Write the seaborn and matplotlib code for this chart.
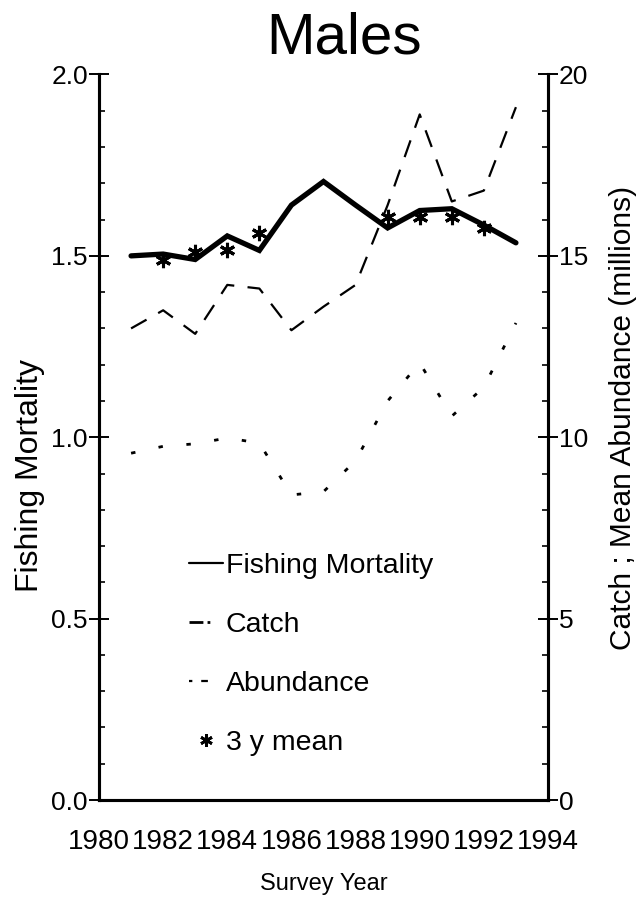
import matplotlib
matplotlib.use("Agg")
import matplotlib.pyplot as plt
from matplotlib.lines import Line2D
import seaborn as sns
import pandas as pd

# ---- data ----
years = [1981, 1982, 1983, 1984, 1985, 1986, 1987, 1988, 1989, 1990, 1991, 1992, 1993]
fishing_mortality = [1.50, 1.505, 1.49, 1.555, 1.515, 1.64, 1.705, 1.64, 1.577, 1.625, 1.63, 1.585, 1.536]
catch = [13.0, 13.5, 12.85, 14.2, 14.1, 12.95, 13.6, 14.2, 16.4, 18.9, 16.5, 16.8, 19.1]
abundance = [9.56, 9.75, 9.82, 9.98, 9.84, 8.41, 8.5, 9.35, 11.0, 12.05, 10.58, 11.38, 13.15]
mean_years = [1982, 1983, 1984, 1985, 1989, 1990, 1991, 1992]
mean_3y = [1.49, 1.512, 1.517, 1.563, 1.607, 1.607, 1.607, 1.577]

x_ticks = [1980, 1982, 1984, 1986, 1988, 1990, 1992, 1994]
left_ticks = [0.0, 0.5, 1.0, 1.5, 2.0]
right_ticks = [0, 5, 10, 15, 20]

sns.set_style("white")
plt.rcParams['font.family'] = ['Liberation Sans', 'DejaVu Sans']
plt.rcParams['text.color'] = 'black'
plt.rcParams['axes.labelcolor'] = 'black'
plt.rcParams['xtick.color'] = 'black'
plt.rcParams['ytick.color'] = 'black'

df = pd.DataFrame({"year": years, "fm": fishing_mortality, "catch": catch, "abund": abundance})
dm = pd.DataFrame({"year": mean_years, "m": mean_3y})

fig = plt.figure(figsize=(6.4, 9.05), dpi=100)
ax = fig.add_axes([99/640, 1-800/905, 449/640, 725.5/905])
ax2 = ax.twinx()

sns.lineplot(data=df, x="year", y="fm", ax=ax, color="black", lw=3.8,
             solid_joinstyle="miter", zorder=5)
sns.lineplot(data=dm, x="year", y="m", ax=ax, color="black", marker=(6, 2, 0),
             linestyle="none", markersize=11, markeredgewidth=2.2,
             markeredgecolor="black", zorder=6)
sns.lineplot(data=df, x="year", y="catch", ax=ax2, color="black", lw=1.6,
             linestyle=(0, (8, 6)))
sns.lineplot(data=df, x="year", y="abund", ax=ax2, color="black", lw=2.0,
             linestyle=(0, (1.6, 8.5)))

ax.set_xlim(1980, 1994)
ax.set_ylim(0, 2.0)
ax2.set_ylim(0, 20)
ax.set_xticks(x_ticks)
ax.set_xticks([1981, 1983, 1985, 1987, 1989, 1991, 1993], minor=True)
ax.set_yticks(left_ticks)
ax.set_yticklabels([f"{v:.1f}" for v in left_ticks])
ax.set_yticks([v/10 for v in range(21)], minor=True)
ax2.set_yticks(right_ticks)
ax2.set_yticks(list(range(21)), minor=True)

for a in (ax, ax2):
    a.spines['top'].set_visible(False)
    for s in ('left', 'right', 'bottom'):
        a.spines[s].set_linewidth(2.2)
        a.spines[s].set_color('black')

ax.tick_params(axis='x', which='major', direction='inout', length=18, width=1.4,
               labelsize=20, pad=12)
ax.tick_params(axis='x', which='minor', direction='in', length=6, width=1.2)
ax.tick_params(axis='y', which='major', direction='inout', length=14, width=1.4,
               labelsize=19, pad=1, left=True)
ax.tick_params(axis='y', which='minor', direction='in', length=4, width=1.2, left=True)
ax2.tick_params(axis='y', which='major', direction='inout', length=14, width=1.4,
                labelsize=19, pad=1, right=True)
ax2.tick_params(axis='y', which='minor', direction='in', length=4, width=1.2, right=True)

ax.set_xlabel("Survey Year", fontsize=17)
ax.xaxis.set_label_coords(0.5, (800-873)/725.5, transform=ax.transAxes)
ax.set_ylabel("Fishing Mortality", fontsize=23, va='center')
ax.yaxis.set_label_coords((30-99)/449, (800-475)/725.5)
ax2.set_ylabel("Catch ; Mean Abundance (millions)", fontsize=21.5, va='center', rotation=90)
ax2.yaxis.set_label_coords((623-99)/449, (800-418)/725.5)
fig.text(344/640, 1-38/905, "Males", fontsize=42, ha='center', va='center')

handles = [
    Line2D([], [], color='black', lw=1.6),
    Line2D([], [], color='black', lw=2.0, linestyle=(0, (5, 1.5, 1, 20))),
    Line2D([], [], color='black', lw=1.6, linestyle=(0, (1.5, 4, 3, 20))),
    Line2D([], [], color='black', marker=(6, 2, 0), linestyle='none',
           markersize=9, markeredgewidth=2),
]
labels = ["Fishing Mortality", "Catch", "Abundance", "3 y mean"]
leg = ax.legend(handles, labels, loc='upper left', bbox_to_anchor=(0.2, 0.34),
                frameon=False, fontsize=20.5, handlelength=1.2, handletextpad=0.1,
                labelspacing=1.15, borderpad=0, borderaxespad=0)

fig.savefig("out.png", dpi=100)
